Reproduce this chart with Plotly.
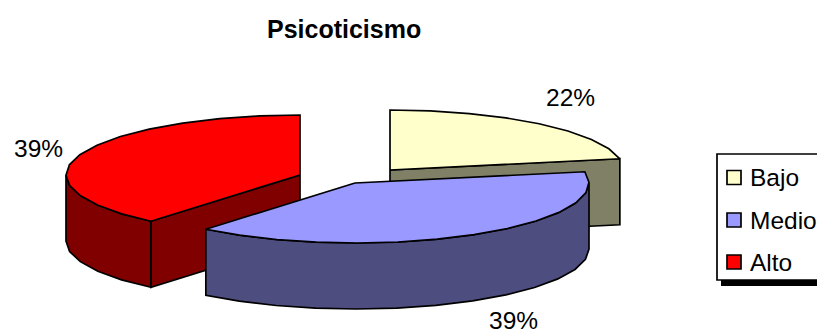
import numpy as np
import plotly.graph_objects as go

categories = ["Bajo", "Medio", "Alto"]
values = [22, 39, 39]
top_colors = ["#FFFFCC", "#9999FF", "#FF0000"]
side_colors = ["#808066", "#4D4D80", "#800000"]

# Exploded slice centres and pie projection, in page pixels
centres = {"Bajo": (390, 170), "Medio": (355, 183), "Alto": (300, 175)}
label_pos = {"Bajo": (570, 97), "Medio": (513, 320), "Alto": (38, 148)}
RX, RY, DEPTH = 234, 60, 66
STEP = 10
LINE = dict(color="black", width=1.7)
FONT = "Liberation Sans, Arial, sans-serif"


def rim(a0, a1, c):
    """Projected rim points between two clockwise angles measured from 12 o'clock."""
    n = max(int(round((a1 - a0) / STEP)), 1)
    t = np.radians(np.linspace(a0, a1, n + 1))
    return c[0] + RX * np.sin(t), c[1] - RY * np.cos(t)


def poly(fig, xs, ys, color):
    fig.add_trace(go.Scatter(x=list(xs) + [xs[0]], y=list(ys) + [ys[0]], mode="lines",
                             fill="toself", fillcolor=color, line=LINE,
                             hoverinfo="skip", showlegend=False))


def cut_face(fig, ang, c, side):
    ex, ey = rim(ang, ang, c)
    poly(fig, [c[0], ex[0], ex[0], c[0]],
         [c[1], ey[0], ey[0] + DEPTH, c[1] + DEPTH], side)


def draw_slice(fig, a0, a1, c, top, side):
    # cut faces that look towards the viewer
    if 180 < a0 < 360:
        cut_face(fig, a0, c, side)
    if 0 < a1 < 180:
        cut_face(fig, a1, c, side)
    # outer wall, only where the rim faces the viewer
    v0, v1 = max(a0, 90), min(a1, 270)
    if v1 > v0:
        x, y = rim(v0, v1, c)
        poly(fig, np.r_[x, x[::-1]], np.r_[y, y[::-1] + DEPTH], side)
    x, y = rim(a0, a1, c)
    poly(fig, np.r_[c[0], x], np.r_[c[1], y], top)


fig = go.Figure()

total = sum(values)
edges = np.cumsum([0] + values) / total * 360
spans = {n: (edges[i], edges[i + 1], i) for i, n in enumerate(categories)}
for name in ("Alto", "Bajo", "Medio"):
    a0, a1, i = spans[name]
    draw_slice(fig, a0, a1, centres[name], top_colors[i], side_colors[i])

# Legend keys and names
key_y = [177.5, 220, 262]
fig.add_trace(go.Scatter(x=[734] * 3, y=key_y, mode="markers",
                         marker=dict(symbol="square", size=14, color=top_colors,
                                     line=dict(color="black", width=1.7)),
                         hoverinfo="skip", showlegend=False))

annotations = [dict(x=344, y=29, text="<b>Psicoticismo</b>", showarrow=False,
                    font=dict(family=FONT, size=25, color="black"))]
for name, v in zip(categories, values):
    lx, ly = label_pos[name]
    annotations.append(dict(x=lx, y=ly, text=f"{v}%", showarrow=False,
                            font=dict(family=FONT, size=24.5, color="black")))
for name, y in zip(categories, key_y):
    annotations.append(dict(x=748, y=y, text=name, showarrow=False, xanchor="left",
                            font=dict(family=FONT, size=24.5, color="black")))
annotations = [dict(a, xref="x", yref="y") for a in annotations]

fig.update_layout(
    width=817, height=334, autosize=False,
    margin=dict(l=0, r=0, t=0, b=0),
    paper_bgcolor="white", plot_bgcolor="white",
    xaxis=dict(range=[0, 817], visible=False, fixedrange=True),
    yaxis=dict(range=[334, 0], visible=False, fixedrange=True),
    showlegend=False,
    annotations=annotations,
    shapes=[
        dict(type="rect", x0=721, y0=158, x1=840, y1=286, xref="x", yref="y",
             fillcolor="black", line=dict(width=0), layer="below"),
        dict(type="rect", x0=717, y0=154, x1=840, y1=280, xref="x", yref="y",
             fillcolor="white", line=dict(color="black", width=1.7), layer="below"),
    ],
)

fig.write_html("out.html", config=dict(displayModeBar=False))
